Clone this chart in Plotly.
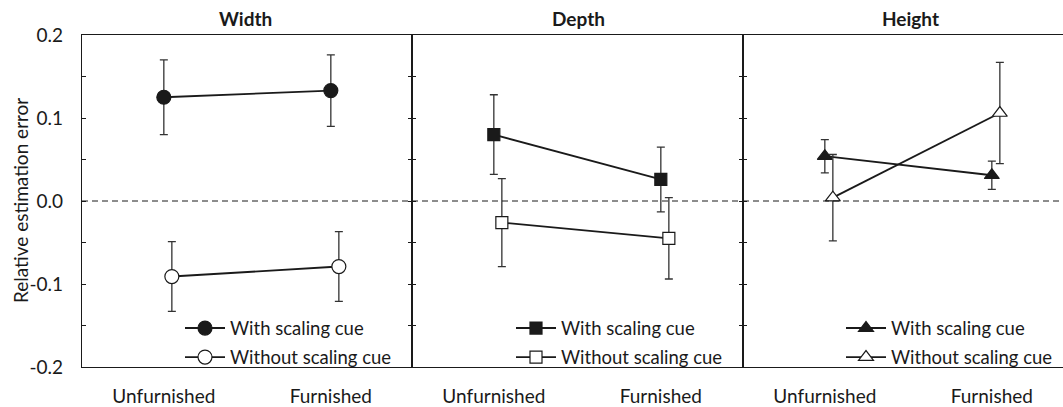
import plotly.graph_objects as go

categories = ["Unfurnished", "Furnished"]
panels = ["Width", "Depth", "Height"]
series_names = ["With scaling cue", "Without scaling cue"]

width_with = [0.125, 0.133]
width_with_err = [0.045, 0.043]
width_without = [-0.091, -0.079]
width_without_err = [0.042, 0.042]

depth_with = [0.080, 0.026]
depth_with_err = [0.048, 0.039]
depth_without = [-0.026, -0.045]
depth_without_err = [0.053, 0.049]

height_with = [0.054, 0.031]
height_with_err = [0.020, 0.017]
height_without = [0.004, 0.106]
height_without_err = [0.052, 0.061]

y_tick_vals = [-0.2, -0.15, -0.1, -0.05, 0.0, 0.05, 0.1, 0.15, 0.2]
y_tick_text = ["-0.2", "", "-0.1", "", "0.0", "", "0.1", "", "0.2"]

FONT = "Lato"
INK = "#1a1a1a"

data = [
    (width_with, width_with_err, width_without, width_without_err, "circle"),
    (depth_with, depth_with_err, depth_without, depth_without_err, "square"),
    (height_with, height_with_err, height_without, height_without_err, "triangle-up"),
]
sizes = [14, 12, 13]

W, H = 1063, 407
L, R_EDGE, T, B = 82, 1063, 35, 370
pw = R_EDGE - L
edges = [82, 412, 743, 1063]
domains = [[(edges[i] - L) / pw, (edges[i + 1] - L) / pw] for i in range(3)]
ppu = 167.0
left_off = 0.49
ranges = [[-left_off, -left_off + (edges[i + 1] - edges[i]) / ppu] for i in range(3)]
offset = 0.048
title_px = [245, 578, 910]

fig = go.Figure()
legend_names = ["legend", "legend2", "legend3"]

for i, (yw, ew, yo, eo, sym) in enumerate(data):
    xa = "x" if i == 0 else f"x{i+1}"
    ya = "y" if i == 0 else f"y{i+1}"
    xs = list(range(len(categories)))
    for k, (yy, ee) in enumerate([(yw, ew), (yo, eo)]):
        fig.add_trace(go.Scatter(
            x=[x + k * offset for x in xs], y=yy,
            mode="lines+markers",
            name=series_names[k],
            xaxis=xa, yaxis=ya,
            legend=legend_names[i],
            legendgroup=f"g{i}{k}",
            line=dict(color=INK, width=1.9),
            marker=dict(symbol=sym,
                        size=sizes[i],
                        color=INK if k == 0 else "white",
                        line=dict(color=INK, width=1.2)),
            error_y=dict(type="data", array=ee, visible=True,
                         color="#333333", thickness=1.3, width=4),
        ))

layout = dict(
    width=W, height=H,
    margin=dict(l=L, r=W - R_EDGE, t=T, b=H - B, pad=0),
    paper_bgcolor="white", plot_bgcolor="white",
    font=dict(family=FONT, size=19, color=INK),
    shapes=[], annotations=[],
)

for i in range(3):
    sx = "" if i == 0 else str(i + 1)
    layout[f"xaxis{sx}"] = dict(
        domain=domains[i], range=ranges[i], anchor=f"y{sx}",
        tickvals=list(range(len(categories))), ticktext=categories,
        ticks="", showline=True, mirror=True, linecolor=INK, linewidth=1.2,
        showgrid=False, zeroline=False, tickfont=dict(size=19, color=INK),
        ticklabelstandoff=12,
    )
    layout[f"yaxis{sx}"] = dict(
        domain=[0, 1], range=[-0.2, 0.2], anchor=f"x{sx}",
        tickvals=y_tick_vals, ticktext=y_tick_text,
        ticks="inside", ticklen=4, tickcolor=INK, tickwidth=1,
        showline=True, linecolor=INK, linewidth=1.2,
        mirror="ticks" if i < 2 else False,
        showgrid=False, zeroline=False,
        showticklabels=(i == 0),
        tickfont=dict(size=19, color=INK),
        ticklabelstandoff=14,
    )
    layout["shapes"].append(dict(
        type="line", xref=f"x{sx} domain", yref=f"y{sx}",
        x0=0, x1=1, y0=0, y1=0,
        line=dict(color=INK, width=1, dash="6px,4px"),
    ))
    layout["annotations"].append(dict(
        text=f"<b>{panels[i]}</b>", xref="paper", yref="paper",
        x=(title_px[i] - L) / pw, y=1, xanchor="center", yanchor="bottom", yshift=3,
        showarrow=False, font=dict(size=19, color=INK),
    ))

layout["annotations"].append(dict(
    text="Relative estimation error", xref="paper", yref="paper",
    x=(20 - L) / pw, y=0.5, xanchor="center", yanchor="middle",
    textangle=-90, showarrow=False, font=dict(size=19, color=INK),
))

legend_x_px = [180, 511, 841]
for i in range(3):
    layout[legend_names[i]] = dict(
        x=(legend_x_px[i] - L) / pw, y=(B - 312) / (B - T),
        xanchor="left", yanchor="top",
        bgcolor="rgba(0,0,0,0)", borderwidth=0,
        font=dict(size=18.5, color=INK, family=FONT),
        tracegroupgap=2, itemwidth=40,
    )

fig.update_layout(**layout)
fig.write_html("out.html")
